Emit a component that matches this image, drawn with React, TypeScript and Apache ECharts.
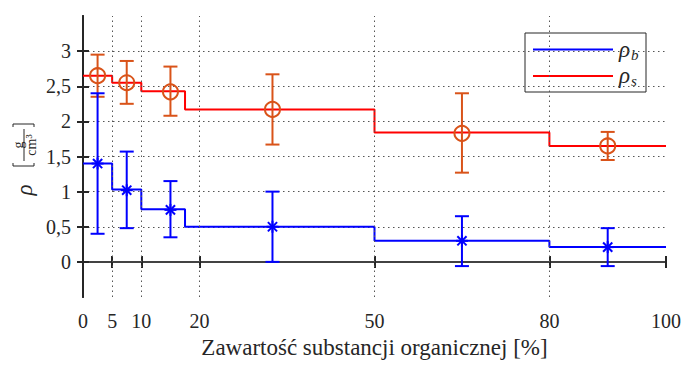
import React, { useEffect, useRef } from "react";
import * as echarts from "echarts";

const xTicks = [0, 5, 10, 20, 50, 80, 100];
const yTicks = [0, 0.5, 1, 1.5, 2, 2.5, 3];
const vGrid = [5, 10, 20, 50, 80];

const stepX = [0, 5, 10, 17.5, 50, 80, 100];
const rhoBStep = [1.4, 1.03, 0.75, 0.5, 0.3, 0.21, 0.21];
const rhoSStep = [2.65, 2.55, 2.43, 2.17, 1.84, 1.65, 1.65];

const pointX = [2.5, 7.5, 15, 32.5, 65, 90];
const rhoBMean = [1.4, 1.02, 0.74, 0.5, 0.3, 0.21];
const rhoBLow = [0.4, 0.48, 0.35, 0.0, -0.06, -0.06];
const rhoBHigh = [2.4, 1.57, 1.15, 1.0, 0.65, 0.48];
const rhoSMean = [2.65, 2.55, 2.42, 2.17, 1.83, 1.65];
const rhoSLow = [2.35, 2.25, 2.08, 1.67, 1.27, 1.45];
const rhoSHigh = [2.95, 2.86, 2.78, 2.67, 2.4, 1.85];

const FONT = "Liberation Serif";
const TXT = "#262626";
const BLUE = "#0000ff";
const RED = "#ff0000";
const ORANGE = "#d95319";

function makeErrorRender(kind: "circle" | "star", color: string) {
  return (params: any, api: any) => {
    const x = api.value(0);
    const y = api.value(1);
    const lo = api.value(2);
    const hi = api.value(3);
    const pc = api.coord([x, y]);
    const pl = api.coord([x, lo]);
    const ph = api.coord([x, hi]);
    const st = { stroke: color, lineWidth: 2, fill: "none" };
    const cw = 7;
    const children: any[] = [
      { type: "line", shape: { x1: pc[0], y1: pl[1], x2: pc[0], y2: ph[1] }, style: st },
      { type: "line", shape: { x1: pc[0] - cw, y1: pl[1], x2: pc[0] + cw, y2: pl[1] }, style: st },
      { type: "line", shape: { x1: pc[0] - cw, y1: ph[1], x2: pc[0] + cw, y2: ph[1] }, style: st },
    ];
    if (kind === "circle") {
      children.push({ type: "circle", shape: { cx: pc[0], cy: pc[1], r: 7.5 }, style: st });
    } else {
      const a = 6;
      const d = 4.6;
      children.push(
        { type: "line", shape: { x1: pc[0] - a, y1: pc[1], x2: pc[0] + a, y2: pc[1] }, style: st },
        { type: "line", shape: { x1: pc[0], y1: pc[1] - a, x2: pc[0], y2: pc[1] + a }, style: st },
        { type: "line", shape: { x1: pc[0] - d, y1: pc[1] - d, x2: pc[0] + d, y2: pc[1] + d }, style: st },
        { type: "line", shape: { x1: pc[0] - d, y1: pc[1] + d, x2: pc[0] + d, y2: pc[1] - d }, style: st }
      );
    }
    return { type: "group", children };
  };
}

const fmt = (v: number) => String(v).replace(".", ",");

export default function App() {
  const ref = useRef<HTMLDivElement>(null);
  useEffect(() => {
    if (!ref.current) return;
    const chart = echarts.init(ref.current, null, { renderer: "svg" });
    const baseX = {
      type: "value",
      min: 0,
      max: 100,
      splitLine: { show: false },
    };
    const baseY = {
      type: "value",
      min: -0.5,
      max: 3.5,
      interval: 0.5,
      splitLine: { show: false },
    };
    const option: any = {
      animation: false,
      backgroundColor: "#ffffff",
      textStyle: { fontFamily: FONT },
      grid: { left: 83, right: 17, top: 16, bottom: 68 },
      xAxis: [
        {
          ...baseX,
          position: "bottom",
          name: "Zawartość substancji organicznej [%]",
          nameLocation: "middle",
          nameGap: 39,
          nameTextStyle: { fontFamily: FONT, fontSize: 23, color: TXT },
          axisLine: { show: true, lineStyle: { color: TXT, width: 2 } },
          axisTick: { show: true, inside: false, length: 6, customValues: xTicks, lineStyle: { color: TXT, width: 2 } },
          axisLabel: { show: true, customValues: xTicks, margin: 14, fontFamily: FONT, fontSize: 20, color: TXT, formatter: (v: number) => fmt(v) },
        },
        {
          ...baseX,
          position: "bottom",
          axisLine: { show: false },
          axisTick: { show: true, inside: true, length: 5, customValues: xTicks, lineStyle: { color: TXT, width: 2 } },
          axisLabel: { show: false },
        },
        {
          ...baseX,
          position: "top",
          axisLine: { show: true, lineStyle: { color: "#4d4d4d", width: 1.5 } },
          axisTick: { show: true, inside: false, length: 6, customValues: xTicks, lineStyle: { color: TXT, width: 2 } },
          axisLabel: { show: false },
        },
        {
          ...baseX,
          position: "top",
          axisLine: { show: false },
          axisTick: { show: true, inside: true, length: 5, customValues: xTicks, lineStyle: { color: TXT, width: 2 } },
          axisLabel: { show: false },
        },
      ],
      yAxis: [
        {
          ...baseY,
          position: "left",
          splitLine: { show: true, lineStyle: { color: "#555555", width: 1, type: [1.5, 3.5] } },
          axisLine: { show: true, lineStyle: { color: TXT, width: 2 } },
          axisTick: { show: true, inside: false, length: 6, customValues: yTicks, lineStyle: { color: TXT, width: 2 } },
          axisLabel: { show: true, customValues: yTicks, margin: 12, fontFamily: FONT, fontSize: 20, color: TXT, formatter: (v: number) => fmt(v) },
        },
        {
          ...baseY,
          position: "left",
          axisLine: { show: false },
          axisTick: { show: true, inside: true, length: 5, customValues: yTicks, lineStyle: { color: TXT, width: 2 } },
          axisLabel: { show: false },
        },
        {
          ...baseY,
          position: "right",
          axisLine: { show: true, lineStyle: { color: TXT, width: 2 } },
          axisTick: { show: true, inside: false, length: 6, customValues: yTicks, lineStyle: { color: TXT, width: 2 } },
          axisLabel: { show: false },
        },
        {
          ...baseY,
          position: "right",
          axisLine: { show: false },
          axisTick: { show: true, inside: true, length: 5, customValues: yTicks, lineStyle: { color: TXT, width: 2 } },
          axisLabel: { show: false },
        },
      ],
      series: [
        {
          name: "grid-v",
          type: "line",
          data: [],
          silent: true,
          markLine: {
            silent: true,
            symbol: ["none", "none"],
            label: { show: false },
            lineStyle: { color: "#555555", width: 1, type: [1.5, 3.5] },
            data: vGrid.map((v) => ({ xAxis: v })),
          },
        },
        {
          name: "ρb",
          type: "line",
          step: "end",
          symbol: "none",
          lineStyle: { color: BLUE, width: 2 },
          data: stepX.map((x, i) => [x, rhoBStep[i]]),
          z: 3,
        },
        {
          name: "ρs",
          type: "line",
          step: "end",
          symbol: "none",
          lineStyle: { color: RED, width: 2 },
          data: stepX.map((x, i) => [x, rhoSStep[i]]),
          z: 3,
        },
        {
          name: "ρs error",
          type: "custom",
          renderItem: makeErrorRender("circle", ORANGE),
          data: pointX.map((x, i) => [x, rhoSMean[i], rhoSLow[i], rhoSHigh[i]]),
          z: 4,
        },
        {
          name: "ρb error",
          type: "custom",
          renderItem: makeErrorRender("star", BLUE),
          data: pointX.map((x, i) => [x, rhoBMean[i], rhoBLow[i], rhoBHigh[i]]),
          z: 4,
        },
      ],
      graphic: [
        {
          type: "group",
          x: 24,
          y: 162,
          rotation: Math.PI / 2,
          children: [
            { type: "text", x: -28, y: 0, style: { text: "ρ", fontFamily: FONT, fontStyle: "italic", fontSize: 23, fill: TXT, align: "center", verticalAlign: "middle" } },
            { type: "polyline", shape: { points: [[-1, -11], [-4, -11], [-4, 10], [-1, 10]] }, style: { stroke: TXT, lineWidth: 1, fill: "none" } },
            { type: "polyline", shape: { points: [[35, -11], [38, -11], [38, 10], [35, 10]] }, style: { stroke: TXT, lineWidth: 1, fill: "none" } },
            { type: "line", shape: { x1: 1, y1: 0, x2: 33, y2: 0 }, style: { stroke: TXT, lineWidth: 1 } },
            { type: "text", x: 17, y: -6, style: { text: "g", fontFamily: FONT, fontSize: 14, fill: TXT, align: "center", verticalAlign: "middle" } },
            { type: "text", x: 17, y: 7, style: { text: "cm³", fontFamily: FONT, fontSize: 14, fill: TXT, align: "center", verticalAlign: "middle" } },
          ],
        },
        {
          type: "group",
          children: [
            { type: "rect", shape: { x: 525, y: 33, width: 121, height: 59 }, style: { fill: "#ffffff", stroke: TXT, lineWidth: 1 } },
            { type: "line", shape: { x1: 533, y1: 49.5, x2: 613, y2: 49.5 }, style: { stroke: BLUE, lineWidth: 2 } },
            { type: "line", shape: { x1: 533, y1: 76, x2: 613, y2: 76 }, style: { stroke: RED, lineWidth: 2 } },
            { type: "text", x: 619, y: 49, style: { text: "ρ", fontFamily: FONT, fontStyle: "italic", fontSize: 23, fill: TXT, verticalAlign: "middle" } },
            { type: "text", x: 631, y: 55, style: { text: "b", fontFamily: FONT, fontStyle: "italic", fontSize: 15, fill: TXT, verticalAlign: "middle" } },
            { type: "text", x: 619, y: 75, style: { text: "ρ", fontFamily: FONT, fontStyle: "italic", fontSize: 23, fill: TXT, verticalAlign: "middle" } },
            { type: "text", x: 631, y: 81, style: { text: "s", fontFamily: FONT, fontStyle: "italic", fontSize: 15, fill: TXT, verticalAlign: "middle" } },
          ],
        },
      ],
    };
    chart.setOption(option);
    return () => chart.dispose();
  }, []);
  return <div ref={ref} style={{ width: 684, height: 365, position: "absolute", left: 0, top: 0 }} />;
}
